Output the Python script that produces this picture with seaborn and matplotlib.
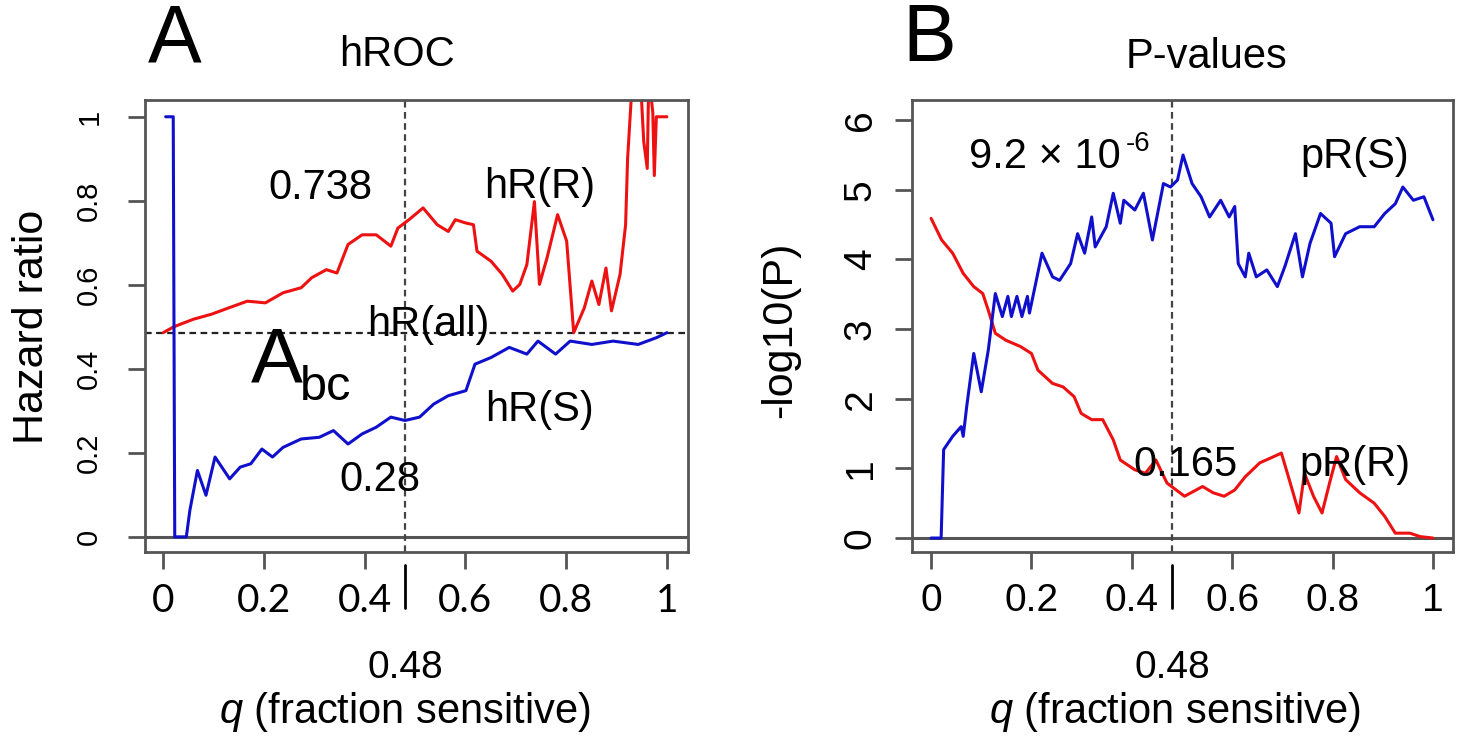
import numpy as np
import pandas as pd
import seaborn as sns
import matplotlib.pyplot as plt
import matplotlib.transforms as mtrans

sns.set_theme(style="white")
plt.rcParams['font.family'] = ['Liberation Sans', 'DejaVu Sans']
plt.rcParams['mathtext.fontset'] = 'custom'
plt.rcParams['mathtext.it'] = 'Liberation Sans:italic'
plt.rcParams['mathtext.rm'] = 'Liberation Sans'
plt.rcParams['text.color'] = 'black'
plt.rcParams['xtick.labelcolor'] = 'black'
plt.rcParams['ytick.labelcolor'] = 'black'

# ---- panel A: hazard ratios ----
hr_r_q = [0.0, 0.021, 0.06, 0.096, 0.13, 0.167, 0.203, 0.238, 0.274, 0.295, 0.324, 0.345,
          0.367, 0.395, 0.423, 0.452, 0.466, 0.488, 0.516, 0.544, 0.566, 0.58, 0.601, 0.616,
          0.623, 0.651, 0.673, 0.694, 0.708, 0.722, 0.737, 0.747, 0.762, 0.783, 0.801, 0.815,
          0.836, 0.851, 0.865, 0.879, 0.89, 0.907, 0.918, 0.922, 0.932, 0.947, 0.954, 0.961,
          0.964, 0.972, 0.975, 0.979, 1.0]
hr_r = [0.486, 0.50, 0.518, 0.53, 0.545, 0.561, 0.557, 0.581, 0.593, 0.617, 0.636, 0.628,
        0.696, 0.719, 0.719, 0.692, 0.735, 0.755, 0.783, 0.743, 0.727, 0.755, 0.747, 0.743,
        0.68, 0.656, 0.625, 0.585, 0.601, 0.648, 0.798, 0.601, 0.664, 0.767, 0.704, 0.486,
        0.545, 0.609, 0.553, 0.64, 0.538, 0.625, 0.743, 0.901, 1.10, 1.10, 0.941, 0.877,
        1.10, 1.01, 0.86, 1.0, 1.0]

hr_s_q = [0.005, 0.02, 0.023, 0.046, 0.053, 0.068, 0.085, 0.103, 0.132, 0.153, 0.174, 0.196,
          0.217, 0.238, 0.274, 0.31, 0.338, 0.367, 0.395, 0.423, 0.452, 0.48, 0.509, 0.537,
          0.566, 0.601, 0.619, 0.651, 0.687, 0.722, 0.744, 0.779, 0.808, 0.851, 0.893, 0.943,
          0.979, 1.0]
hr_s = [1.0, 1.0, 0.0, 0.0, 0.063, 0.158, 0.099, 0.19, 0.138, 0.166, 0.174, 0.209,
        0.19, 0.213, 0.233, 0.237, 0.253, 0.221, 0.245, 0.261, 0.285, 0.277, 0.285, 0.316,
        0.336, 0.348, 0.411, 0.427, 0.451, 0.435, 0.466, 0.435, 0.466, 0.458, 0.466, 0.458,
        0.474, 0.486]
hr_all = 0.486
q_cut = 0.48

# ---- panel B: -log10 p-values ----
pr_r_q = [0.0, 0.021, 0.043, 0.064, 0.085, 0.103, 0.114, 0.128, 0.149, 0.178, 0.2, 0.213,
          0.242, 0.263, 0.285, 0.299, 0.32, 0.342, 0.363, 0.377, 0.406, 0.427, 0.448, 0.47,
          0.505, 0.541, 0.562, 0.584, 0.605, 0.626, 0.655, 0.683, 0.698, 0.712, 0.733, 0.744,
          0.762, 0.779, 0.794, 0.808, 0.826, 0.854, 0.883, 0.904, 0.925, 0.954, 0.975, 1.0]
pr_r = [4.59, 4.28, 4.09, 3.8, 3.61, 3.51, 3.27, 2.94, 2.84, 2.75, 2.65, 2.41,
        2.22, 2.17, 2.03, 1.79, 1.7, 1.7, 1.41, 1.12, 0.98, 0.93, 1.12, 0.79,
        0.6, 0.74, 0.65, 0.6, 0.69, 0.88, 1.08, 1.17, 1.22, 0.88, 0.36, 0.93,
        0.6, 0.36, 0.79, 1.17, 0.84, 0.65, 0.5, 0.31, 0.07, 0.07, 0.02, 0.0]

pr_s_q = [0.0, 0.02, 0.025, 0.043, 0.06, 0.064, 0.071, 0.085, 0.1, 0.114, 0.128, 0.142,
          0.153, 0.16, 0.171, 0.181, 0.192, 0.196, 0.221, 0.242, 0.256, 0.278, 0.292, 0.306,
          0.32, 0.327, 0.349, 0.363, 0.377, 0.384, 0.406, 0.423, 0.441, 0.463, 0.477, 0.491,
          0.502, 0.52, 0.538, 0.555, 0.577, 0.594, 0.605, 0.612, 0.626, 0.633, 0.648, 0.669,
          0.69, 0.705, 0.726, 0.74, 0.755, 0.776, 0.797, 0.804, 0.826, 0.854, 0.883, 0.904,
          0.925, 0.94, 0.961, 0.982, 1.0]
pr_s = [0.0, 0.0, 1.27, 1.46, 1.6, 1.46, 1.89, 2.65, 2.1, 2.7, 3.51, 3.18,
        3.47, 3.18, 3.47, 3.18, 3.47, 3.23, 4.09, 3.75, 3.7, 3.94, 4.37, 4.09,
        4.61, 4.18, 4.47, 4.95, 4.52, 4.85, 4.71, 4.95, 4.28, 5.09, 5.04, 5.14,
        5.5, 5.09, 4.9, 4.61, 4.85, 4.61, 4.76, 3.94, 3.75, 4.09, 3.75, 3.85,
        3.61, 3.9, 4.37, 3.75, 4.23, 4.66, 4.52, 4.04, 4.37, 4.47, 4.47, 4.66,
        4.8, 5.04, 4.85, 4.9, 4.57]

dfA_r = pd.DataFrame({'q': hr_r_q, 'v': hr_r})
dfA_s = pd.DataFrame({'q': hr_s_q, 'v': hr_s})
dfB_r = pd.DataFrame({'q': pr_r_q, 'v': pr_r})
dfB_s = pd.DataFrame({'q': pr_s_q, 'v': pr_s})

RED = '#ee1111'
BLUE = '#1010cc'
GREY = '#555555'

fig = plt.figure(figsize=(14.59, 7.46), dpi=100)
axA = fig.add_axes([0.0994, 0.2601, 0.3722, 0.6059])
axB = fig.add_axes([0.6251, 0.2601, 0.3708, 0.6059])

sns.lineplot(data=dfA_r, x='q', y='v', ax=axA, color=RED, lw=2.2, estimator=None, sort=False)
sns.lineplot(data=dfA_s, x='q', y='v', ax=axA, color=BLUE, lw=2.2, estimator=None, sort=False)
sns.lineplot(data=dfB_r, x='q', y='v', ax=axB, color=RED, lw=2.2, estimator=None, sort=False)
sns.lineplot(data=dfB_s, x='q', y='v', ax=axB, color=BLUE, lw=2.2, estimator=None, sort=False)

axA.set_xlim(-0.036, 1.042)
axA.set_ylim(-0.036, 1.04)
axB.set_xlim(-0.038, 1.04)
axB.set_ylim(-0.2, 6.29)

axA.axhline(hr_all, color='#222222', lw=1.6, ls=(0, (3, 2)), zorder=1)
for ax in (axA, axB):
    ax.axhline(0, color=GREY, lw=2.2, zorder=1)
    ax.axvline(q_cut, color='#444444', lw=1.6, ls=(0, (3, 2)), zorder=1)
    ax.axvline(q_cut, ymin=-0.029, ymax=-0.124, color='black', lw=2, clip_on=False)
    for s in ax.spines.values():
        s.set_color(GREY)
        s.set_linewidth(2)
    ax.set_xlabel('')
    ax.set_ylabel('')
    ax.set_xticks([0, 0.2, 0.4, 0.6, 0.8, 1])
    ax.set_xticklabels(['0', '0.2', '0.4', '0.6', '0.8', '1'])
    ax.tick_params(axis='both', which='major', direction='out', length=12, width=2,
                   color=GREY, bottom=True, left=True, labelsize=28, pad=10)
    ax.text(q_cut, -0.257, '0.48', transform=mtrans.blended_transform_factory(ax.transData, ax.transAxes),
            ha='center', va='center', fontsize=28)

axA.set_yticks([0, 0.2, 0.4, 0.6, 0.8, 1])
axA.set_yticklabels(['0', '0.2', '0.4', '0.6', '0.8', '1'], rotation=90, va='center')
axA.tick_params(axis='y', labelsize=21, pad=18)
for lab in axA.get_xticklabels():
    lab.set_family('Lato')
axB.set_yticks(range(7))
axB.set_yticklabels([str(i) for i in range(7)], rotation=90, va='center')
axB.tick_params(axis='y', labelsize=28, pad=12)

axA.text(0.479, -0.354, r'$\mathit{q}$ (fraction sensitive)', transform=axA.transAxes,
         ha='center', va='center', fontsize=30)
axB.text(0.486, -0.354, r'$\mathit{q}$ (fraction sensitive)', transform=axB.transAxes,
         ha='center', va='center', fontsize=30)

# annotations panel A
axA.text(0.313, 0.831, '0.738', ha='center', va='center', fontsize=30)
axA.text(0.748, 0.833, 'hR(R)', ha='center', va='center', fontsize=30)
axA.text(0.526, 0.505, 'hR(all)', ha='center', va='center', fontsize=30)
axA.text(0.226, 0.417, 'A', ha='center', va='center', fontsize=56)
axA.text(0.322, 0.355, 'bc', ha='center', va='center', fontsize=35)
axA.text(0.748, 0.302, 'hR(S)', ha='center', va='center', fontsize=30)
axA.text(0.43, 0.136, '0.28', ha='center', va='center', fontsize=30)

# annotations panel B
axB.text(0.227, 5.47, '9.2 × 10', ha='center', va='center', fontsize=30)
axB.text(0.412, 5.66, '-6', ha='center', va='center', fontsize=20)
axB.text(0.845, 5.47, 'pR(S)', ha='center', va='center', fontsize=30)
axB.text(0.506, 1.05, '0.165', ha='center', va='center', fontsize=30)
axB.text(0.845, 1.05, 'pR(R)', ha='center', va='center', fontsize=30)

fig.text(0.12, 0.946, 'A', ha='center', va='center', fontsize=58)
fig.text(0.272, 0.926, 'hROC', ha='center', va='center', fontsize=30)
fig.text(0.637, 0.946, 'B', ha='center', va='center', fontsize=58)
fig.text(0.8266, 0.9236, 'P-values', ha='center', va='center', fontsize=30)
fig.text(0.022, 0.562, 'Hazard ratio', rotation=90, ha='center', va='center', fontsize=31)
fig.text(0.5346, 0.558, '-log10(P)', rotation=90, ha='center', va='center', fontsize=31)

fig.savefig('out.png', dpi=100)
